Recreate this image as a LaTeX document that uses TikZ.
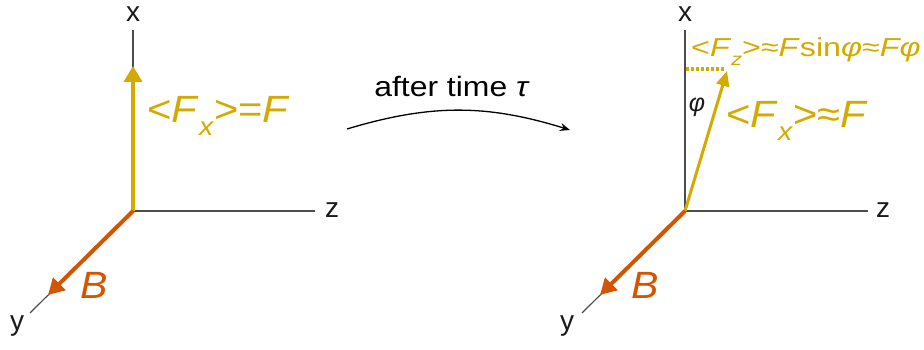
\documentclass[tikz,border=0pt]{standalone}
\usepackage{fontspec}
\usepackage{graphicx}
\setmainfont{Liberation Sans}
\usetikzlibrary{arrows.meta}
\definecolor{gold}{HTML}{D4AA00}
\definecolor{rust}{HTML}{D45500}
\definecolor{axisgray}{HTML}{4D4D4D}
\definecolor{labelblack}{HTML}{1A1A1A}
\newcommand{\fsz}[1]{\fontsize{#1}{#1}\selectfont}
\newcommand{\mysub}[1]{\raisebox{-0.34em}{\scalebox{0.68}{#1}}}
\newcommand{\sx}[2]{\scalebox{#1}[1]{#2}}
\begin{document}
\begin{tikzpicture}[x=1pt,y=-1pt,
  axis/.style={draw=axisgray, line width=1.7pt},
  yaxis/.style={draw=axisgray, line width=1.2pt},
  axlabel/.style={inner sep=0pt, text=labelblack, font=\fsz{28}},
  goldarrow/.style={draw=gold, line width=4.5pt, -{Triangle[length=16pt,width=18pt]}},
  goldthin/.style={draw=gold, line width=3pt, -{Triangle[length=15pt,width=13pt]}},
  rustarrow/.style={draw=rust, line width=4pt, -{Triangle[length=16pt,width=17pt]}},
  bigtext/.style={inner sep=0pt, anchor=base west, text=gold, font=\fsz{38}},
  smalltext/.style={inner sep=0pt, anchor=base west, text=gold, font=\fsz{26}},
  blabel/.style={inner sep=0pt, text=rust, font=\fsz{38}\itshape},
  timearrow/.style={draw=black, line width=1.3pt, -{Stealth[length=10pt,width=8pt]}},
  dotline/.style={draw=gold, line width=3.2pt, dash pattern=on 2.8pt off 2.2pt}
]
\useasboundingbox (0,0) rectangle (924,350);
% ---------- left panel ----------
\coordinate (O1) at (133,211);
\coordinate (X1e) at (133,30);
\coordinate (Z1e) at (315,211);
\coordinate (Y1e) at (30,313);
\coordinate (F1) at (133,66);
\coordinate (B1) at (48,295);
\draw[axis] (O1) -- (X1e);
\draw[axis] (O1) -- (Z1e);
\draw[yaxis] (O1) -- (Y1e);
\draw[goldarrow] (O1) -- (F1);
\draw[rustarrow] (O1) -- (B1);
\node[axlabel] (X1) at (133,14) {x};
\node[axlabel] (Z1) at (332,210) {z};
\node[axlabel] (Y1) at (17,326) {y};
\node[bigtext] (FX1) at (147,123) {\sx{1.1}{<\textit{F}\mysub{\textit{x}}>=\textit{F}}};
\node[blabel] (BL1) at (94,285) {\sx{1.08}{B}};
% ---------- arrow between ----------
\coordinate (A1) at (347,129);
\coordinate (A2) at (570,130);
\draw[timearrow] (A1) to[bend left=17] (A2);
\node[inner sep=0pt, font=\fsz{28}, anchor=base] (T) at (452,97) {\sx{1.14}{after time \textit{τ}}};
% ---------- right panel ----------
\coordinate (O2) at (685,211);
\coordinate (X2e) at (685,30);
\coordinate (Z2e) at (868,211);
\coordinate (Y2e) at (582,313);
\coordinate (F2) at (727,71);
\coordinate (B2) at (600,295);
\coordinate (D1) at (686,69);
\coordinate (D2) at (724,69);
\draw[axis] (O2) -- (X2e);
\draw[axis] (O2) -- (Z2e);
\draw[yaxis] (O2) -- (Y2e);
\draw[dotline] (D1) -- (D2);
\draw[goldthin] (O2) -- (F2);
\draw[rustarrow] (O2) -- (B2);
\node[axlabel] (X2) at (685,14) {x};
\node[axlabel] (Z2) at (883,210) {z};
\node[axlabel] (Y2) at (567,326) {y};
\node[inner sep=0pt, font=\fsz{25}\itshape, text=labelblack] (PHI) at (697,107) {φ};
\node[bigtext] (FX2) at (726,128) {\sx{1.1}{<\textit{F}\mysub{\textit{x}}>≈\textit{F}}};
\node[smalltext] (FZ) at (691,57) {\sx{1.24}{<\textit{F}\mysub{\textit{z}}>≈\textit{F}sin\textit{φ}≈\textit{Fφ}}};
\node[blabel] (BL2) at (645,285) {\sx{1.08}{B}};
\end{tikzpicture}
\end{document}
